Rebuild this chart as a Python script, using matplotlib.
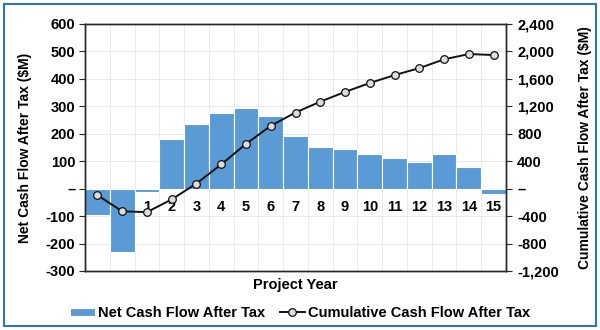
import matplotlib
matplotlib.use('Agg')
import matplotlib.pyplot as plt
import matplotlib.ticker as mticker
from matplotlib.patches import Rectangle
import numpy as np

plt.rcParams['font.family'] = ['Liberation Sans', 'DejaVu Sans']
plt.rcParams['font.weight'] = 'bold'
plt.rcParams['axes.labelweight'] = 'bold'

years = ['-2', '-1', '1', '2', '3', '4', '5', '6', '7', '8', '9', '10', '11', '12', '13', '14', '15']
net_cash_flow = [-95, -232, -12, 180, 237, 275, 295, 263, 193, 152, 145, 128, 113, 96, 127, 78, -20]
cumulative_cash_flow = [-95, -330, -342, -157, 75, 353, 652, 915, 1110, 1268, 1410, 1540, 1655, 1757, 1885, 1962, 1948]

bar_color = '#5B9BD5'
spine_color = '#262626'
grid_color = '#E6E6E6'


def dash_zero(fmt):
    def f(v, pos):
        if abs(v) < 1e-9:
            return '\u2013'
        return fmt.format(v)
    return f


fig = plt.figure(figsize=(6.0, 3.3), dpi=100)
ax = fig.add_axes([85 / 600, 1 - 271 / 330, (506 - 85) / 600, (271 - 24) / 330])
x = np.arange(len(years))

ax.bar(x, net_cash_flow, width=1.0, color=bar_color, edgecolor='white', linewidth=0.8,
       label='Net Cash Flow After Tax', zorder=2)
ax.set_xlim(-0.5, len(years) - 0.5)
ax.set_ylim(-300, 600)
ax.set_yticks(np.arange(-300, 601, 100))
ax.yaxis.set_major_formatter(mticker.FuncFormatter(dash_zero('{:.0f}')))
ax.set_xticks(np.arange(-0.5, len(years), 1.0))
ax.tick_params(axis='x', length=0, labelbottom=False)
ax.tick_params(axis='y', length=4, width=0.8, color=spine_color, labelsize=10.5, pad=3)
ax.grid(True, color=grid_color, linewidth=0.6, zorder=0)
ax.set_axisbelow(True)
for s in ax.spines.values():
    s.set_color(spine_color)
    s.set_linewidth(1.0)
ax.set_ylabel('Net Cash Flow After Tax ($M)', fontsize=10, labelpad=10)
ax.set_xlabel('Project Year', fontsize=10.5, labelpad=5)

# category labels sit on the zero line
sec = ax.secondary_xaxis(1 / 3)
sec.set_xticks(x, years)
sec.tick_params(length=0, labelsize=10.5, pad=8)
sec.spines['bottom'].set_visible(False)

ax2 = ax.twinx()
ax2.plot(x, cumulative_cash_flow, color='#111111', linewidth=1.4, marker='o', markersize=5.5,
         markerfacecolor='#DDDDDD', markeredgecolor='#111111', markeredgewidth=0.9,
         label='Cumulative Cash Flow After Tax', zorder=3)
ax2.set_ylim(-1200, 2400)
ax2.set_yticks(np.arange(-1200, 2401, 400))
ax2.yaxis.set_major_formatter(mticker.FuncFormatter(dash_zero('{:,.0f}')))
ax2.tick_params(axis='y', length=4, width=0.8, color=spine_color, labelsize=10.5, pad=4)
for s in ax2.spines.values():
    s.set_color(spine_color)
    s.set_linewidth(1.0)
ax2.set_ylabel('Cumulative Cash Flow After Tax ($M)', fontsize=10, labelpad=14)

h1, l1 = ax.get_legend_handles_labels()
h2, l2 = ax2.get_legend_handles_labels()
fig.legend(h1 + h2, l1 + l2, loc='center', bbox_to_anchor=(0.5, 1 - 313 / 330), ncol=2,
           frameon=False, fontsize=10.5, handlelength=1.7, handleheight=0.5,
           columnspacing=1.0, handletextpad=0.2)

fig.patches.append(Rectangle((4 / 600, 4 / 330), 592 / 600, 322 / 330, transform=fig.transFigure,
                             fill=False, edgecolor='#2E75B6', linewidth=1.5))

fig.savefig('out.png', dpi=100)
